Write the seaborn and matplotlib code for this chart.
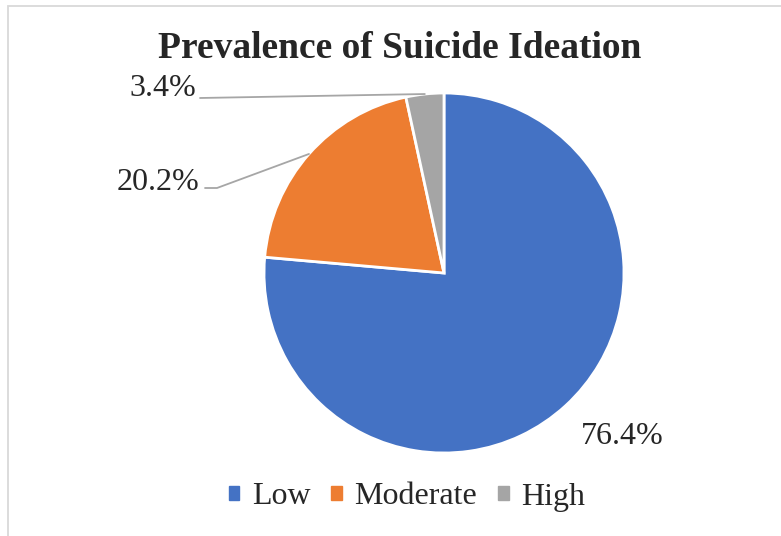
import numpy as np
import matplotlib
matplotlib.use("Agg")
import matplotlib.pyplot as plt
import matplotlib.patches as mpatches
import seaborn as sns

# ── data ──────────────────────────────────────────────────────────────────
categories = ["Low", "Moderate", "High"]
shares = [76.4, 20.2, 3.4]
colors = ["#4472C4", "#ED7D31", "#A5A5A5"]
title = "Prevalence of Suicide Ideation"


def main():
    sns.set_theme(style="white")
    plt.rcParams["font.family"] = ["Liberation Serif", "DejaVu Serif"]

    W, H = 781, 536
    fig = plt.figure(figsize=(W / 100, H / 100), dpi=100)
    ax = fig.add_axes([0, 0, 1, 1])

    # ── pie ───────────────────────────────────────────────────────────────
    cx, cy, R = 444, H - 273, 180
    wedges, _ = ax.pie(shares, colors=colors, startangle=90, counterclock=False,
                       center=(cx, cy), radius=R, frame=True,
                       wedgeprops=dict(edgecolor="white", linewidth=2))
    ax.set_xlim(0, W)
    ax.set_ylim(0, H)
    ax.set_aspect("equal")
    ax.axis("off")

    # chart-area border (right/bottom edges fall outside the crop)
    ax.add_patch(mpatches.Rectangle((8, -10), W + 20, H - 6 + 10, fill=False,
                                    edgecolor="#D9D9D9", linewidth=1.3))

    # ── labels with leader lines ──────────────────────────────────────────
    def edge_point(w):
        ang = np.deg2rad((w.theta1 + w.theta2) / 2)
        return cx + R * np.cos(ang), cy + R * np.sin(ang)

    lbl = {c: f"{v:.1f}%" for c, v in zip(categories, shares)}
    fs = 23

    ax.text(622, H - 437, lbl["Low"], fontsize=fs, ha="center", va="center")

    ex, ey = edge_point(wedges[1])
    ax.plot([205, 217, ex], [H - 188, H - 188, ey], color="#A6A6A6", lw=1.3)
    ax.text(199, H - 183, lbl["Moderate"], fontsize=fs, ha="right", va="center")

    ex, ey = edge_point(wedges[2])
    ax.plot([200, ex], [H - 98, ey], color="#A6A6A6", lw=1.3)
    ax.text(196, H - 89, lbl["High"], fontsize=fs, ha="right", va="center")

    # ── title ─────────────────────────────────────────────────────────────
    ax.text(400, H - 48, title, fontsize=27, fontweight="bold",
            ha="center", va="center")

    # ── legend ────────────────────────────────────────────────────────────
    handles = [mpatches.Patch(color=c, label=n) for c, n in zip(colors, categories)]
    fig.legend(handles=handles, loc="center", bbox_to_anchor=(407 / W, 1 - 497 / H),
               ncol=3, frameon=False, fontsize=fs, handlelength=0.33,
               handleheight=0.33, handletextpad=0.4, columnspacing=0.65)

    fig.savefig("out.png", dpi=100, facecolor="white")


if __name__ == "__main__":
    main()
